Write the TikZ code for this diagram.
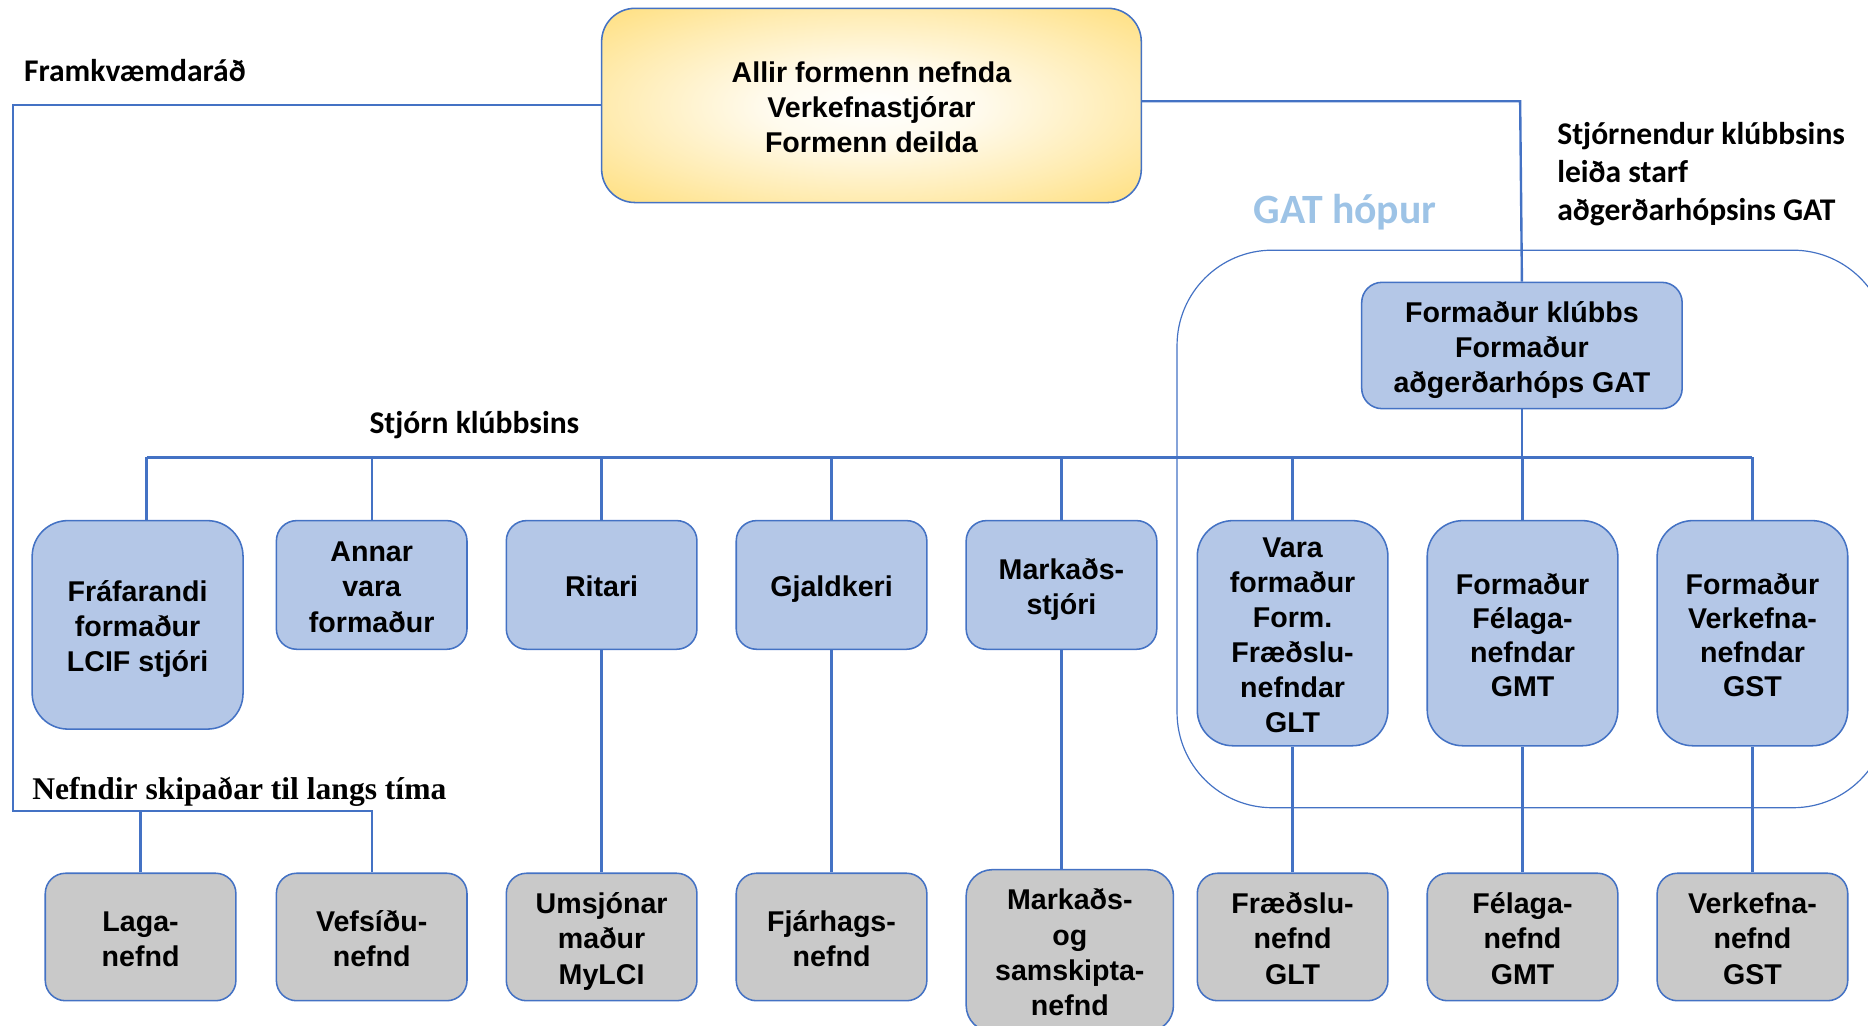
\documentclass[tikz,border=0pt]{standalone}
\usepackage{fontspec}
\setmainfont{Liberation Sans}
\newfontfamily\calfont{Carlito}
\newfontfamily\timesfont{Liberation Serif}
\definecolor{lineblue}{HTML}{4472C4}
\definecolor{boxblue}{HTML}{B4C7E7}
\definecolor{boxgray}{HTML}{C9C9C9}
\definecolor{goldedge}{HTML}{FFD966}
\definecolor{gatlabel}{HTML}{9DC3E6}
\pgfdeclareradialshading{goldrad}{\pgfpoint{0bp}{0bp}}{%
  color(0bp)=(white);
  color(10bp)=(white!88!goldedge);
  color(24bp)=(white!50!goldedge);
  color(36bp)=(white!15!goldedge);
  color(46bp)=(goldedge);
  color(100bp)=(goldedge)}
\newcommand\boxfont{\fontsize{24}{29.5}\selectfont\bfseries}
\newcommand\labfont{\calfont\fontsize{26.5}{32}\selectfont\bfseries}
\newcommand\fs{\rule{0pt}{25pt}}
\newcommand\es{\rule[-5pt]{0pt}{5pt}}
\tikzset{
  conn/.style={draw=lineblue, line width=2pt},
  bbox/.style={draw=lineblue, line width=1.3pt, fill=boxblue, rounded corners=17pt,
    align=center, inner sep=0pt, font=\boxfont, text=black},
  tallbox/.style={bbox, rounded corners=30pt},
  gbox/.style={bbox, fill=boxgray},
  lab/.style={font=\labfont, anchor=base west, inner sep=0pt, text=black},
  small/.style={minimum width=160pt, minimum height=108pt},
  tall/.style={minimum width=160pt, minimum height=189pt},
  low/.style={minimum width=160pt, minimum height=107pt},
}
\begin{document}
\begin{tikzpicture}[x=1pt,y=-1pt]
\useasboundingbox (0,0) rectangle (1568,861);
\clip (0,0) rectangle (1568,861);

% GAT group frame
\draw[draw=lineblue, line width=1pt, rounded corners=80pt] (988,210) rectangle (1585,678);

% top box
\node[draw=lineblue, line width=1.3pt, rounded corners=28pt, shading=goldrad,
  minimum width=453pt, minimum height=163pt, align=center, inner sep=0pt,
  font=\fontsize{24}{29.5}\selectfont\bfseries] (top) at (731.5,88.5)
  {\fs Allir formenn nefnda\\Verkefnastjórar\\Formenn deilda\es};

% GAT leader box
\node[bbox, minimum width=269pt, minimum height=106pt] (gatf) at (1277.5,290)
  {\fs Formaður klúbbs\\Formaður\\aðgerðarhóps GAT\es};

% row 1
\node[tallbox, minimum width=177pt, minimum height=175pt] (fraf) at (115.5,524.5) {\fs Fráfarandi\\formaður\\LCIF stjóri\es};
\node[bbox, small] (annar) at (312,491) {\fs Annar\\vara\\formaður\es};
\node[bbox, small] (ritari) at (505,491) {\fs Ritari\es};
\node[bbox, small] (gjald) at (698,491) {\fs Gjaldkeri\es};
\node[bbox, small] (markst) at (891,491) {\fs Markaðs-\\stjóri\es};
\node[tallbox, tall] (vara) at (1085,531.5) {\fs Vara\\formaður\\Form.\\Fræðslu-\\nefndar\\GLT\es};
\node[tallbox, tall, font=\fontsize{24}{28.5}\selectfont\bfseries] (formgmt) at (1278,531.5) {\fs Formaður\\Félaga-\\nefndar\\GMT\es};
\node[tallbox, tall, font=\fontsize{24}{28.5}\selectfont\bfseries] (formgst) at (1471,531.5) {\fs Formaður\\Verkefna-\\nefndar\\GST\es};

% row 2
\node[gbox, low] (laga) at (118,786.5) {\fs Laga-\\nefnd\es};
\node[gbox, low] (vefs) at (312,786.5) {\fs Vefsíðu-\\nefnd\es};
\node[gbox, low] (umsj) at (505,786.5) {\fs Umsjónar\\maður\\MyLCI\es};
\node[gbox, low] (fjar) at (698,786.5) {\fs Fjárhags-\\nefnd\es};
\node[gbox, minimum width=174pt, minimum height=136pt, rounded corners=22pt] (markog) at (898,798) {\fs Markaðs-\\og\\samskipta-\\nefnd\es};
\node[gbox, low] (fraed) at (1085,786.5) {\fs Fræðslu-\\nefnd\\GLT\es};
\node[gbox, low] (felag) at (1278,786.5) {\fs Félaga-\\nefnd\\GMT\es};
\node[gbox, low] (verk) at (1471,786.5) {\fs Verkefna-\\nefnd\\GST\es};

% labels
\node[lab] (lframk) at (20,68) {Framkvæmdaráð};
\node[lab] (lstjorn) at (310,364) {Stjórn klúbbsins};
\node[lab] (lst1) at (1307,121) {Stjórnendur klúbbsins};
\node[lab] (lst2) at (1307,153) {leiða starf};
\node[lab] (lst3) at (1307,185) {aðgerðarhópsins GAT};
\node[lab, text=gatlabel, font=\calfont\fontsize{35}{40}\selectfont\bfseries] (lgat) at (1052,188) {GAT hópur};
\node[anchor=base west, inner sep=0pt, font=\timesfont\fontsize{26.5}{32}\selectfont\bfseries] (lnefnd) at (27,671)
  {Nefndir skipaðar til langs tíma};

% coordinates
\coordinate (busL) at (123,384);
\coordinate (busR) at (1471,384);
\coordinate (leftT) at (11,88);
\coordinate (leftB) at (11,681);
\coordinate (rightT) at (1276,85);

% connectors
\draw[conn] (busL) -- (busR);
\draw[conn] (busL) -- (busL |- fraf.north);
\foreach \n in {annar,ritari,gjald,markst,vara,formgmt,formgst}
  \draw[conn] (\n.north) -- (\n.north |- busL);
\draw[conn] (gatf.south) -- (gatf.south |- busL);
\draw[conn] (top.east |- rightT) -- (rightT) -- (gatf.north);
\draw[conn] (top.west |- leftT) -- (leftT) -- (leftB) -- (leftB -| vefs.north) -- (vefs.north);
\draw[conn] (laga.north) -- (laga.north |- leftB);
\draw[conn] (ritari.south) -- (umsj.north);
\draw[conn] (gjald.south) -- (fjar.north);
\draw[conn] (markst.south) -- (markst.south |- markog.north);
\draw[conn] (vara.south) -- (fraed.north);
\draw[conn] (formgmt.south) -- (felag.north);
\draw[conn] (formgst.south) -- (verk.north);
\end{tikzpicture}
\end{document}
